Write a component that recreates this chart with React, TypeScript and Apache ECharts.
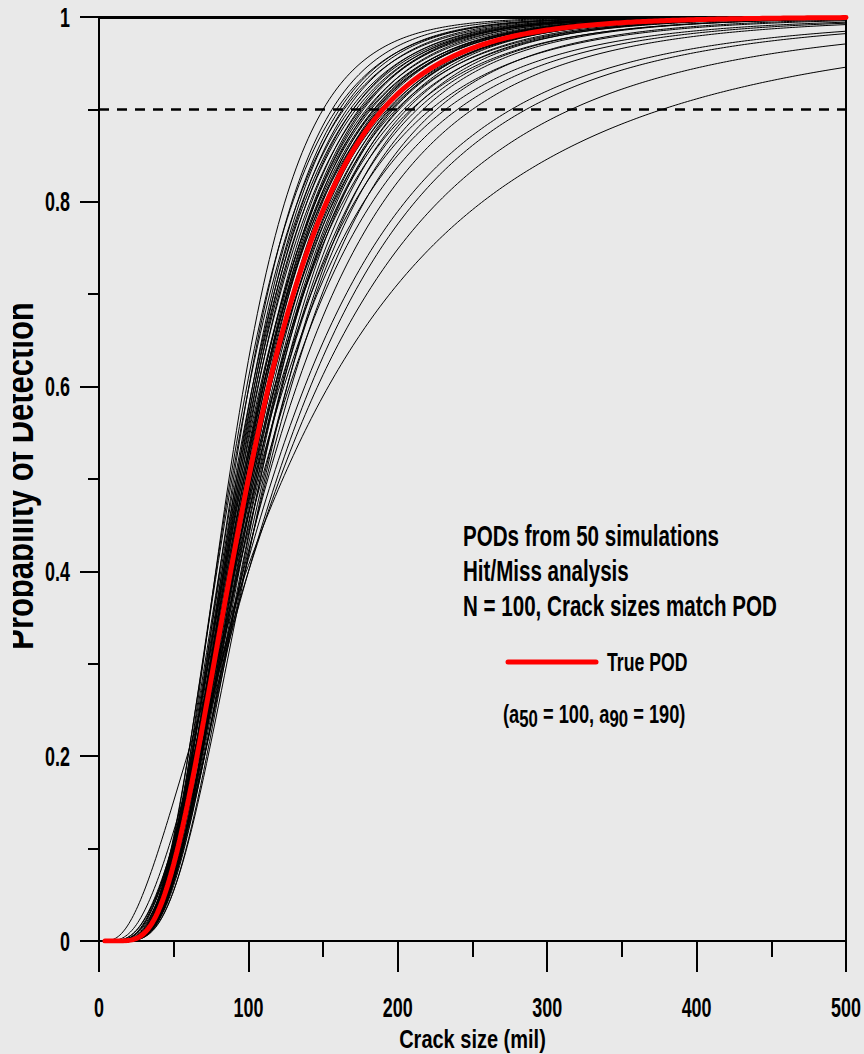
import React, { useEffect, useRef } from "react";
import * as echarts from "echarts";

// Axis ticks
const xTicks = [0, 100, 200, 300, 400, 500];
const yTicks = [0, 0.2, 0.4, 0.6, 0.8, 1];

// Crack sizes (mil) at 50% and 90% detection for each of the 50 simulated hit/miss fits
const simA50 = [
  87, 90, 88, 92, 89, 94, 91, 95, 93, 97,
  94, 99, 96, 100, 97, 101, 98, 102, 96, 103,
  99, 104, 101, 106, 100, 105, 103, 108, 102, 107,
  110, 104, 112, 106, 109, 113, 116, 119, 121, 123,
  93, 98, 95, 102, 99, 105, 92, 108, 111, 97,
];
const simA90 = [
  150, 156, 159, 161, 164, 166, 168, 170, 172, 174,
  175, 177, 179, 180, 182, 184, 185, 187, 188, 191,
  193, 194, 195, 197, 199, 201, 204, 206, 209, 213,
  217, 222, 226, 232, 240, 250, 276, 286, 316, 377,
  163, 176, 181, 186, 190, 196, 170, 200, 210, 184,
];

// True POD curve
const trueA50 = 100;
const trueA90 = 190;
const referencePod = 0.9;

const infoLines = [
  "PODs from 50 simulations",
  "Hit/Miss analysis",
  "N = 100, Crack sizes match POD",
];
const trueLabel = "True POD";
const xName = "Crack size (mil)";
const yName = "Probability of Detection";

const FONT = '"Liberation Sans", Arial, sans-serif';
const BG = "#e9e9e9";

function erf(x: number): number {
  const s = x < 0 ? -1 : 1;
  const ax = Math.abs(x);
  const t = 1 / (1 + 0.3275911 * ax);
  const y =
    1 -
    ((((1.061405429 * t - 1.453152027) * t + 1.421413741) * t - 0.284496736) * t +
      0.254829592) *
      t *
      Math.exp(-ax * ax);
  return s * y;
}
const normCdf = (z: number) => 0.5 * (1 + erf(z / Math.SQRT2));
const Z90 = 1.2815516;

// crack sizes at which each log-normal POD curve is evaluated
const sizes: number[] = [];
for (let a = 4; a <= 500; a += a < 60 ? 1 : 2) sizes.push(a);

function podCurve(a50: number, a90: number): number[][] {
  const sigma = Math.log(a90 / a50) / Z90;
  const mu = Math.log(a50);
  return sizes.map((a) => [a, normCdf((Math.log(a) - mu) / sigma)]);
}

// condensed bold text element (narrowed horizontally around its anchor)
function label(
  text: string,
  x: number,
  y: number,
  size: number,
  squeeze: number,
  align: "left" | "center" | "right",
  extra: Record<string, unknown> = {}
) {
  return {
    type: "text",
    x,
    y,
    scaleX: squeeze,
    z: 50,
    silent: true,
    style: {
      text,
      fontFamily: FONT,
      fontWeight: "bold",
      fontSize: size,
      fill: "#000",
      textAlign: align,
      align,
      textVerticalAlign: "middle",
      verticalAlign: "middle",
      ...extra,
    },
  };
}

export default function App() {
  const ref = useRef<HTMLDivElement>(null);

  useEffect(() => {
    if (!ref.current) return;
    const chart = echarts.init(ref.current, undefined, { renderer: "svg" });

    const simSeries = simA50.map((a50, i) => ({
      type: "line",
      data: podCurve(a50, simA90[i]),
      showSymbol: false,
      silent: true,
      z: 3,
      lineStyle: { color: "#000", width: 1 },
    }));

    chart.setOption({
      animation: false,
      backgroundColor: BG,
      grid: {
        left: 99,
        right: 18,
        top: 17,
        bottom: 113,
        containLabel: false,
        outerBoundsMode: "none",
      },
      xAxis: {
        type: "value",
        min: xTicks[0],
        max: xTicks[xTicks.length - 1],
        interval: xTicks[1] - xTicks[0],
        axisLine: { lineStyle: { color: "#000", width: 2 } },
        axisTick: { length: 31, lineStyle: { color: "#000", width: 2 } },
        minorTick: { show: true, splitNumber: 2, length: 16, lineStyle: { color: "#000", width: 2 } },
        splitLine: { show: false },
        axisLabel: { show: false },
      },
      yAxis: {
        type: "value",
        min: yTicks[0],
        max: yTicks[yTicks.length - 1],
        interval: yTicks[1] - yTicks[0],
        axisLine: { lineStyle: { color: "#000", width: 2 } },
        axisTick: { length: 19, lineStyle: { color: "#000", width: 2 } },
        minorTick: { show: true, splitNumber: 2, length: 11, lineStyle: { color: "#000", width: 2 } },
        splitLine: { show: false },
        axisLabel: { show: false },
      },
      series: [
        {
          type: "line",
          data: [],
          silent: true,
          z: 2,
          markLine: {
            silent: true,
            symbol: "none",
            label: { show: false },
            data: [
              { yAxis: referencePod, lineStyle: { color: "#000", width: 2.5, type: [10, 8] } },
              { yAxis: yTicks[yTicks.length - 1], lineStyle: { color: "#000", width: 3, type: "solid" } },
              { xAxis: xTicks[xTicks.length - 1], lineStyle: { color: "#000", width: 2, type: "solid" } },
            ],
          },
        },
        ...simSeries,
        {
          type: "line",
          data: podCurve(trueA50, trueA90),
          showSymbol: false,
          silent: true,
          z: 5,
          lineStyle: { color: "#ff0000", width: 5, cap: "round" },
        },
      ],
    });

    // tick labels placed through the axes' own scales
    const px = (v: number) => chart.convertToPixel({ gridIndex: 0 }, [v, 0]) as number[];
    const py = (v: number) => chart.convertToPixel({ gridIndex: 0 }, [0, v]) as number[];
    const [x0, yBase] = px(xTicks[0]);
    const xEnd = px(xTicks[xTicks.length - 1])[0];
    const yTop = py(yTicks[yTicks.length - 1])[1];

    const xLabels = xTicks.map((v) => label(String(v), px(v)[0], yBase + 66, 28, 0.64, "center"));
    const yLabels = yTicks.map((v) => label(String(v), x0 - 29, py(v)[1], 28, 0.64, "right"));

    const pct50 = 50;
    const pct90 = Math.round(referencePod * 100);

    chart.setOption({
      graphic: [
        ...xLabels,
        ...yLabels,
        label(xName, (x0 + xEnd) / 2, yBase + 99, 25, 0.8, "center"),
        {
          ...label(yName, 20, (yBase + yTop) / 2 - 3, 38, 0.815, "center"),
          rotation: Math.PI / 2,
        },
        {
          type: "rect",
          z: 60,
          silent: true,
          shape: { x: 0, y: 0, width: 13, height: 1054 },
          style: { fill: BG },
        },
        ...infoLines.map((t, i) => label(t, 463, 535.5 + i * 35.3, 29, 0.71, "left")),
        {
          type: "line",
          z: 50,
          silent: true,
          shape: { x1: 508, y1: 662, x2: 596, y2: 662 },
          style: { stroke: "#ff0000", lineWidth: 5, lineCap: "round" },
        },
        label(trueLabel, 607, 662.5, 26, 0.68, "left"),
        label(
          `(a{sub|${pct50}} = ${trueA50}, a{sub|${pct90}} = ${trueA90})`,
          503,
          714,
          25,
          0.73,
          "left",
          {
            rich: {
              sub: {
                fontFamily: FONT,
                fontWeight: "bold",
                fontSize: 23,
                padding: [10, 0, 0, 0],
              },
            },
          }
        ),
      ],
    });

    return () => chart.dispose();
  }, []);

  return (
    <div
      ref={ref}
      style={{ position: "fixed", left: 0, top: 0, width: 864, height: 1054 }}
    />
  );
}
